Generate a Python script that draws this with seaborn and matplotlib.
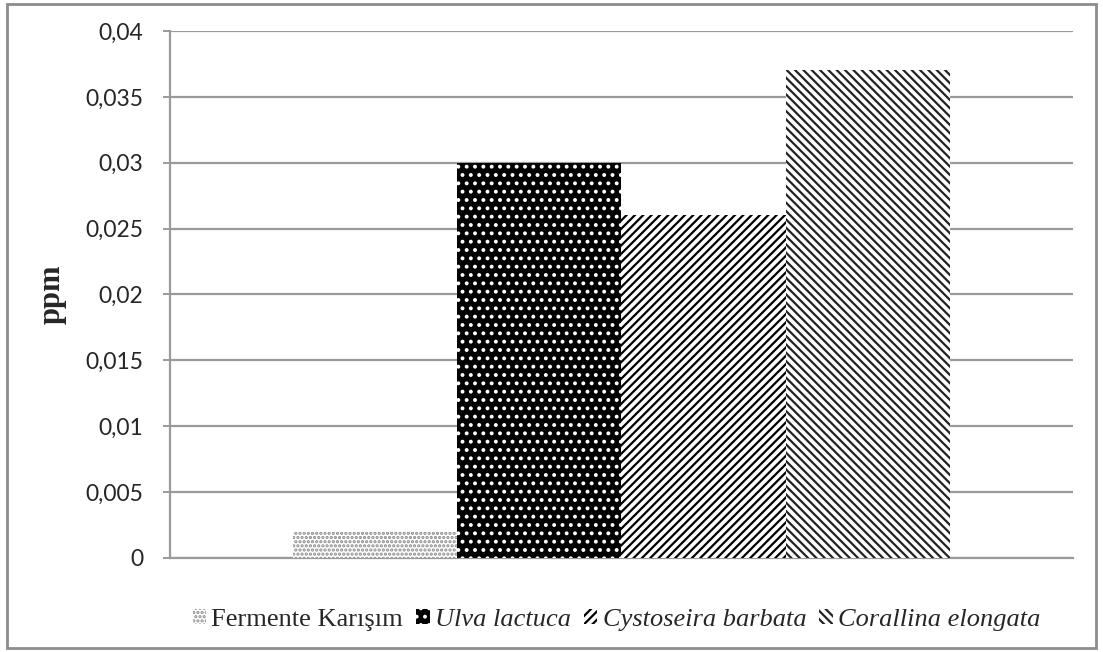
import matplotlib
matplotlib.use("Agg")
import matplotlib.pyplot as plt
from matplotlib.patches import Rectangle, Patch
import seaborn as sns
import pandas as pd

# Data
series = ["Fermente Karışım", "Ulva lactuca", "Cystoseira barbata", "Corallina elongata"]
values = [0.002, 0.030, 0.026, 0.037]
italic = [False, True, True, True]
yticks = [0, 0.005, 0.01, 0.015, 0.02, 0.025, 0.03, 0.035, 0.04]
ytick_labels = ["0", "0,005", "0,01", "0,015", "0,02", "0,025", "0,03", "0,035", "0,04"]

# Bar styles: face colour, hatch colour, hatch
faces = ["white", "black", "white", "white"]
hatch_cols = ["#8a8a8a", "white", "black", "#222222"]
hatches = ["....", "..", "////", "\\\\\\\\"]

sns.set_style("white")
plt.rcParams["hatch.linewidth"] = 1.6

df = pd.DataFrame({"grp": ["g"] * len(series), "name": series, "val": values})

fig = plt.figure(figsize=(11.03, 6.52), dpi=100)
ax = fig.add_axes([0.1541, 0.1442, 0.8187, 0.8083])

sns.barplot(data=df, x="grp", y="val", hue="name", hue_order=series,
            width=0.727, gap=0, ax=ax, legend=False, errorbar=None)

for bar, fc, hc, h in zip(ax.patches, faces, hatch_cols, hatches):
    bar.set_facecolor(fc)
    bar.set_edgecolor(hc)
    bar.set_hatch(h)
    bar.set_linewidth(0)
    bar.set_zorder(3)

ax.set_xlim(-0.5, 0.5)
ax.set_ylim(0, 0.04)
ax.set_yticks(yticks)
ax.set_yticklabels(ytick_labels, fontfamily="Lato", fontsize=16.5)
ax.set_xticks([])
ax.set_xlabel("")
ax.set_ylabel("ppm", fontfamily="Liberation Serif", fontweight="bold", fontsize=22)
ax.yaxis.set_label_coords(-0.1145, 0.5)
ax.grid(axis="y", color="#9a9a9a", linewidth=1.6, zorder=0)
ax.set_axisbelow(True)
ax.tick_params(axis="y", length=5, width=1.4, color="#9a9a9a", pad=14, left=True)
for side in ["top", "right"]:
    ax.spines[side].set_visible(False)
for side in ["left", "bottom"]:
    ax.spines[side].set_color("#9a9a9a")
    ax.spines[side].set_linewidth(1.6)

# Legend with small hatched squares
handles = [Patch(facecolor=fc, edgecolor=hc, hatch=h, linewidth=0)
           for fc, hc, h in zip(faces, hatch_cols, hatches)]
leg = fig.legend(handles, series, loc="center", bbox_to_anchor=(0.559, 0.049),
                 ncol=4, frameon=False, handlelength=0.5, handleheight=0.5,
                 handletextpad=0.2, columnspacing=0.5,
                 prop={"family": "Liberation Serif", "size": 19})
for txt, it in zip(leg.get_texts(), italic):
    if it:
        txt.set_fontstyle("italic")

# Outer frame around the whole figure
fig.patches.append(Rectangle((0.0065, 0.006), 0.987, 0.988, transform=fig.transFigure,
                             fill=False, edgecolor="#8c8c8c", linewidth=2))

fig.savefig("out.png", dpi=100)
